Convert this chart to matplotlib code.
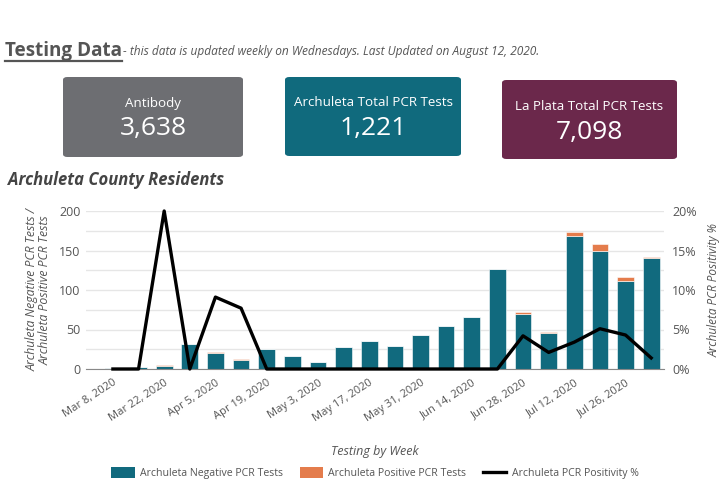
import matplotlib
matplotlib.use("Agg")
import matplotlib.pyplot as plt
from matplotlib.patches import FancyBboxPatch, Patch
from matplotlib.lines import Line2D
from matplotlib.ticker import MultipleLocator, FuncFormatter

weeks = ["Mar 8, 2020", "Mar 15, 2020", "Mar 22, 2020", "Mar 29, 2020", "Apr 5, 2020",
         "Apr 12, 2020", "Apr 19, 2020", "Apr 26, 2020", "May 3, 2020", "May 10, 2020",
         "May 17, 2020", "May 24, 2020", "May 31, 2020", "Jun 7, 2020", "Jun 14, 2020",
         "Jun 21, 2020", "Jun 28, 2020", "Jul 5, 2020", "Jul 12, 2020", "Jul 19, 2020",
         "Jul 26, 2020", "Aug 2, 2020"]
negative = [1, 2, 4, 32, 20, 12, 25, 16, 9, 28, 36, 29, 43, 55, 66, 126, 69, 46, 168, 150, 112, 140]
positive = [0, 0, 1, 0, 2, 1, 0, 0, 0, 0, 0, 0, 0, 0, 0, 0, 3, 1, 6, 8, 5, 2]
positivity = [0, 0, 20, 0, 9.1, 7.7, 0, 0, 0, 0, 0, 0, 0, 0, 0, 0, 4.2, 2.1, 3.4, 5.1, 4.3, 1.4]

card_labels = ["Antibody", "Archuleta Total PCR Tests", "La Plata Total PCR Tests"]
card_values = ["3,638", "1,221", "7,098"]

TEAL = "#116a7e"
ORANGE = "#e47c4c"
OPEN = ["Open Sans", "DejaVu Sans"]

W, H = 720, 480
fig = plt.figure(figsize=(7.2, 4.8), dpi=100)
fig.patch.set_facecolor("white")

def fx(px):
    return px / W

def fy(py):
    return 1 - py / H

# Header
t = fig.text(fx(5), fy(56), "Testing Data", family=OPEN, fontsize=13.6,
             fontweight="bold", color="#555555", va="baseline", ha="left")
fig.canvas.draw()
bb = t.get_window_extent()
fig.add_artist(Line2D([bb.x0 / W, bb.x1 / W], [fy(61), fy(61)], color="#555555", lw=1.6))
fig.text(bb.x1 / W + 0.002, fy(55), "- this data is updated weekly on Wednesdays. Last Updated on August 12, 2020.",
         family=OPEN, fontsize=8.6, style="italic", color="#555555", va="baseline", ha="left")

# Cards
cards = [(63, 77, 243, 157, "#6d6e72"), (285, 77, 461, 156, "#106a7d"), (502, 80, 677, 159, "#6b284b")]
for (x0, y0, x1, y1, col), lab, val in zip(cards, card_labels, card_values):
    fig.add_artist(FancyBboxPatch((fx(x0), fy(y1)), fx(x1 - x0), (y1 - y0) / H,
                                  boxstyle="round,pad=0,rounding_size=0.006",
                                  transform=fig.transFigure, facecolor=col, edgecolor="none"))
    cx = fx((x0 + x1) / 2)
    fig.text(cx, fy(y0 + 26), lab, family=OPEN, fontsize=9.6, color="white", ha="center", va="center")
    fig.text(cx, fy(y0 + 52), val, family=OPEN, fontsize=19, color="white", ha="center", va="center")

fig.text(fx(8), fy(180), "Archuleta County Residents", family=OPEN, fontsize=12,
         fontweight="bold", style="italic", color="#444444", ha="left", va="center")

# Chart
ax = fig.add_axes([fx(86), fy(369), fx(664 - 86), (369 - 211) / H])
x = list(range(len(weeks)))
ax.bar(x, negative, width=0.65, color=TEAL, edgecolor="white", linewidth=0.4, zorder=2)
ax.bar(x, positive, bottom=negative, width=0.65, color=ORANGE, edgecolor="white", linewidth=0.4, zorder=2)
ax.set_xlim(-1.05, 21.5)
ax.set_ylim(0, 200)
ax.yaxis.set_major_locator(MultipleLocator(50))
ax.yaxis.set_minor_locator(MultipleLocator(25))
ax.grid(axis="y", which="both", color="#e6e6e6", lw=1, zorder=0)
ax.set_axisbelow(True)
for s in ["top", "right", "left"]:
    ax.spines[s].set_visible(False)
ax.spines["bottom"].set_color("#888888")
ax.tick_params(axis="y", which="both", length=0, pad=4, labelsize=9, labelcolor="#555555")
for lbl in ax.get_yticklabels():
    lbl.set_family(OPEN)
ax.set_xticks(x[::2])
ax.set_xticklabels(weeks[::2], rotation=33, ha="right", rotation_mode="anchor",
                   family=OPEN, fontsize=8, color="#555555")
ax.tick_params(axis="x", length=0, pad=6)
ax.set_xlabel("Testing by Week", family=OPEN, fontsize=9, style="italic", color="#555555", labelpad=15)
ax.set_ylabel("Archuleta Negative PCR Tests /\nArchuleta Positive PCR Tests", family=OPEN,
              fontsize=8.8, style="italic", color="#555555", labelpad=5, linespacing=1.05)

ax2 = ax.twinx()
ax2.plot(x, positivity, color="black", lw=2.4, clip_on=False, zorder=5)
ax2.set_ylim(0, 20)
ax2.yaxis.set_major_locator(MultipleLocator(5))
ax2.yaxis.set_major_formatter(FuncFormatter(lambda v, p: f"{int(v)}%"))
for s in ["top", "right", "left", "bottom"]:
    ax2.spines[s].set_visible(False)
ax2.tick_params(axis="y", length=0, pad=6, labelsize=9, labelcolor="#555555")
for lbl in ax2.get_yticklabels():
    lbl.set_family(OPEN)
ax2.set_ylabel("Archuleta PCR Positivity %", family=OPEN, fontsize=8.5, style="italic",
               color="#555555", labelpad=8)

handles = [Patch(facecolor=TEAL, edgecolor="none"), Patch(facecolor=ORANGE, edgecolor="none"),
           Line2D([], [], color="black", lw=2.4)]
labels = ["Archuleta Negative PCR Tests", "Archuleta Positive PCR Tests", "Archuleta PCR Positivity %"]
fig.legend(handles, labels, loc="center", bbox_to_anchor=(fx(375), fy(473)), ncol=3, frameon=False,
           prop={"family": OPEN, "size": 7.6}, labelcolor="#555555", handlelength=2.2,
           handleheight=1.3, columnspacing=1.6, handletextpad=0.5)

fig.savefig("out.png", dpi=100, facecolor="white")
